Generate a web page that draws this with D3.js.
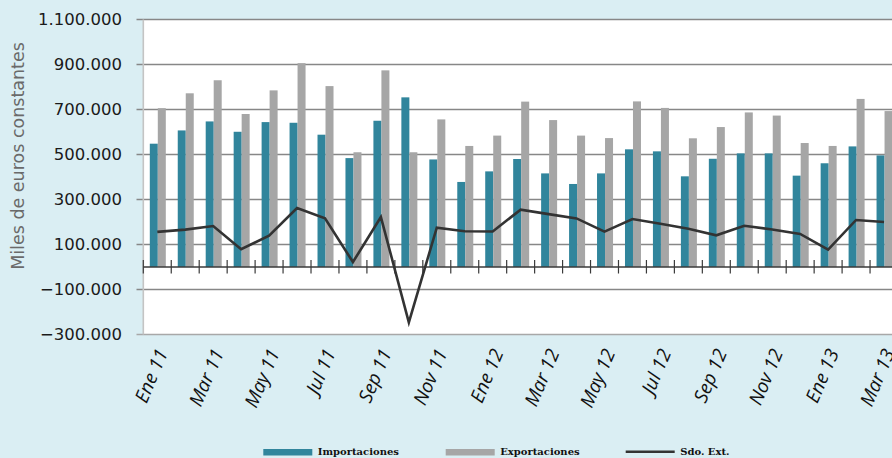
<!DOCTYPE html>
<html>
<head>
<meta charset="utf-8">
<script src="https://cdn.jsdelivr.net/npm/d3@7"></script>
<style>
  html, body { margin: 0; padding: 0; background: #daeef3; }
  svg { display: block; }
</style>
</head>
<body>
<svg id="chart" width="892" height="458"></svg>
<script>
const categories = ["Ene 11","Feb 11","Mar 11","Abr 11","May 11","Jun 11","Jul 11","Ago 11","Sep 11","Oct 11","Nov 11","Dic 11",
  "Ene 12","Feb 12","Mar 12","Abr 12","May 12","Jun 12","Jul 12","Ago 12","Sep 12","Oct 12","Nov 12","Dic 12",
  "Ene 13","Feb 13","Mar 13"];
const importaciones = [548000,607000,647000,601000,644000,641000,588000,484000,650000,754000,478000,378000,
  425000,480000,416000,369000,416000,523000,514000,403000,481000,505000,505000,406000,461000,536000,496000];
const exportaciones = [706000,772000,830000,680000,785000,906000,804000,510000,874000,510000,656000,538000,
  584000,735000,653000,584000,573000,736000,707000,572000,622000,687000,673000,551000,538000,747000,693000];
const saldo = [156000,166000,182000,79000,139000,262000,216000,22000,222000,-246000,175000,159000,
  158000,255000,235000,216000,157000,213000,192000,170000,141000,183000,167000,147000,77000,209000,200000];
const yTicks = [-300000,-100000,100000,300000,500000,700000,900000,1100000];
const xLabelIdx = [0,2,4,6,8,10,12,14,16,18,20,22,24,26];
const seriesNames = ["Importaciones","Exportaciones","Sdo. Ext."];

const svg = d3.select("#chart");
const W = 892, H = 458;
svg.append("rect").attr("width", W).attr("height", H).attr("fill", "#daeef3");

const x0 = 143.3, x1 = 898;
const x = d3.scaleBand().domain(categories).range([x0, x1]).padding(0);
const y = d3.scaleLinear().domain([-300000, 1100000]).range([334.5, 19.5]);
const inner = d3.scaleBand().domain(["imp","exp"]).range([6.5, 22.5]).padding(0);
const loc = d3.formatLocale({decimal: ",", thousands: ".", grouping: [3], currency: ["", ""]});
const fmt = loc.format(",d");

// plot area
svg.append("rect").attr("x", x0).attr("y", y(1100000)).attr("width", x1 - x0)
  .attr("height", y(-300000) - y(1100000)).attr("fill", "#ffffff");

// gridlines + ticks
const grid = svg.append("g");
grid.selectAll("line").data(yTicks).join("line")
  .attr("x1", 136.5).attr("x2", x1)
  .attr("y1", d => y(d)).attr("y2", d => y(d))
  .attr("stroke", d => d === -300000 ? "#a8a8a8" : "#878787")
  .attr("stroke-width", 1.4);

// y axis line
svg.append("line").attr("x1", x0).attr("x2", x0).attr("y1", y(1100000)).attr("y2", y(-300000))
  .attr("stroke", "#c4c4c4").attr("stroke-width", 1.6);

// y tick labels
svg.append("g").selectAll("text").data(yTicks).join("text")
  .attr("x", 122).attr("y", d => y(d)).attr("dy", "0.36em")
  .attr("text-anchor", "end")
  .attr("font-family", "DejaVu Sans, Verdana, sans-serif")
  .attr("font-size", 16.5).attr("fill", "#1a1a1a")
  .text(d => fmt(d));

// y title
svg.append("text")
  .attr("transform", "translate(24,156) rotate(-90)")
  .attr("text-anchor", "middle")
  .attr("font-family", "DejaVu Sans, Verdana, sans-serif")
  .attr("font-size", 17.5).attr("fill", "#6a6a6a")
  .text("Miles de euros constantes");

// bars
const gb = svg.append("g");
gb.selectAll("rect.imp").data(importaciones).join("rect").attr("class", "imp")
  .attr("x", (d, i) => x(categories[i]) + inner("imp"))
  .attr("width", inner.bandwidth())
  .attr("y", d => y(Math.max(0, d)))
  .attr("height", d => Math.abs(y(d) - y(0)))
  .attr("fill", "#31859c");
gb.selectAll("rect.exp").data(exportaciones).join("rect").attr("class", "exp")
  .attr("x", (d, i) => x(categories[i]) + inner("exp"))
  .attr("width", inner.bandwidth())
  .attr("y", d => y(Math.max(0, d)))
  .attr("height", d => Math.abs(y(d) - y(0)))
  .attr("fill", "#a6a6a6");

// zero axis with tick marks
svg.append("line").attr("x1", x0).attr("x2", x1).attr("y1", y(0)).attr("y2", y(0))
  .attr("stroke", "#3a3a3a").attr("stroke-width", 1.4);
svg.append("g").selectAll("line").data(categories).join("line")
  .attr("x1", d => x(d)).attr("x2", d => x(d))
  .attr("y1", y(0) - 7).attr("y2", y(0) + 6.5)
  .attr("stroke", "#3a3a3a").attr("stroke-width", 1.2);

// saldo line
const line = d3.line().x((d, i) => x(categories[i]) + x.bandwidth() / 2).y(d => y(d));
svg.append("path").datum(saldo).attr("d", line)
  .attr("fill", "none").attr("stroke", "#333333").attr("stroke-width", 2.6)
  .attr("stroke-linejoin", "miter");

// x labels
svg.append("g").selectAll("text").data(xLabelIdx).join("text")
  .attr("transform", i => `translate(${x(categories[i]) + x.bandwidth() / 2 + 5},350) rotate(-67)`)
  .attr("text-anchor", "end").attr("dy", "0.35em")
  .attr("font-family", "Open Sans, sans-serif").attr("font-style", "italic")
  .attr("font-size", 19).attr("fill", "#111")
  .text(i => categories[i]);

// legend
const lg = svg.append("g").attr("font-family", "DejaVu Serif, serif").attr("font-weight", "bold")
  .attr("font-size", 10).attr("fill", "#111");
const legendX = [263.3, 445.7, 625.7];
lg.append("rect").attr("x", legendX[0]).attr("y", 449).attr("width", 49).attr("height", 6.5).attr("fill", "#31859c");
lg.append("rect").attr("x", legendX[1]).attr("y", 449).attr("width", 49).attr("height", 6.5).attr("fill", "#a6a6a6");
lg.append("line").attr("x1", legendX[2]).attr("x2", legendX[2] + 49).attr("y1", 451.8).attr("y2", 451.8)
  .attr("stroke", "#333").attr("stroke-width", 2.6);
lg.selectAll("text").data(seriesNames).join("text")
  .attr("x", (d, i) => legendX[i] + 54.5).attr("y", 455)
  .text(d => d);
</script>
</body>
</html>
